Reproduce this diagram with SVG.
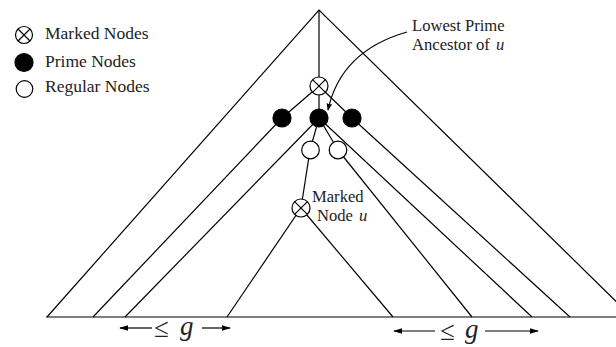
<svg xmlns="http://www.w3.org/2000/svg" width="616" height="347" viewBox="0 0 616 347">
<style>
.e{stroke:#000;stroke-width:1.2;fill:none}
.n{stroke:#000;stroke-width:1.2;fill:#fff}
.p{fill:#000;stroke:#000;stroke-width:1.2}
.t{font-family:"Liberation Serif",serif;font-size:17.5px;fill:#222}
.s{font-size:16.6px}
.i{font-style:italic}
.g{font-family:"Liberation Serif",serif;font-size:27px;fill:#222}
</style>
<defs>
<marker id="ah" viewBox="0 0 10 10" refX="9" refY="5" markerWidth="7" markerHeight="7" orient="auto" markerUnits="userSpaceOnUse">
<path d="M0,1 L10,5 L0,9 z" fill="#000"/>
</marker>
<marker id="ab" viewBox="0 0 10 10" refX="9" refY="5" markerWidth="9" markerHeight="9" orient="auto-start-reverse" markerUnits="userSpaceOnUse">
<path d="M0,2 L10,5 L0,8 z" fill="#000"/>
</marker>
</defs>
<g id="connectors">
<path class="e" d="M47,317 L319,10 L632,317"/>
<path class="e" d="M46,317 L616,317"/>
<path class="e" d="M319,10 L319,86"/>
<path class="e" d="M319,86 L282,118"/>
<path class="e" d="M319,86 L319,118"/>
<path class="e" d="M319,86 L352,118"/>
<path class="e" d="M282,118 L93,317"/>
<path class="e" d="M319,118 L125,317"/>
<path class="e" d="M319,118 L310,150"/>
<path class="e" d="M319,118 L338,150"/>
<path class="e" d="M319,118 L532,317"/>
<path class="e" d="M352,118 L570,317"/>
<path class="e" d="M310,150 L301,208"/>
<path class="e" d="M338,150 L472,317"/>
<path class="e" d="M301,208 L227,317"/>
<path class="e" d="M301,208 L393,317"/>
<path class="e" d="M407,32 C372,42 338,64 328,110" marker-end="url(#ah)"/>
</g>
<g id="node-marked-top">
<circle class="n" cx="319" cy="86" r="9"/>
<path class="e" d="M312.6,79.6 L325.4,92.4 M325.4,79.6 L312.6,92.4"/>
</g>
<g id="node-prime-left"><circle class="p" cx="282" cy="118" r="9"/></g>
<g id="node-prime-center"><circle class="p" cx="319" cy="118" r="9"/></g>
<g id="node-prime-right"><circle class="p" cx="352" cy="118" r="9"/></g>
<g id="node-regular-left"><circle class="n" cx="310.5" cy="150" r="8.8"/></g>
<g id="node-regular-right"><circle class="n" cx="338" cy="150" r="8.8"/></g>
<g id="node-marked-u">
<circle class="n" cx="301" cy="208" r="9"/>
<path class="e" d="M294.6,201.6 L307.4,214.4 M307.4,201.6 L294.6,214.4"/>
<text class="t s" x="312" y="202">Marked</text>
<text class="t s" x="317" y="220.5">Node</text>
<text class="t s i" x="359" y="220.5">u</text>
</g>
<g id="label-lowest-prime">
<text class="t s" x="412" y="31">Lowest Prime</text>
<text class="t s" x="412" y="49.5">Ancestor of</text>
<text class="t s i" x="496" y="49.5">u</text>
</g>
<g id="legend">
<circle class="n" cx="24" cy="35" r="8.5"/>
<path class="e" d="M18,29 L30,41 M30,29 L18,41"/>
<text class="t" x="45" y="39">Marked Nodes</text>
<circle class="p" cx="24" cy="62.5" r="9"/>
<text class="t" x="45" y="67">Prime Nodes</text>
<circle class="n" cx="24.5" cy="89" r="8.3"/>
<text class="t" x="45" y="92">Regular Nodes</text>
</g>
<g id="gap-left">
<path class="e" d="M152,328 L120,328" marker-end="url(#ab)"/>
<path class="e" d="M202,328 L230,328" marker-end="url(#ab)"/>
<text class="g" x="154" y="337">≤</text>
<text class="g i" x="180" y="335">g</text>
</g>
<g id="gap-right">
<path class="e" d="M435,331 L394,331" marker-end="url(#ab)"/>
<path class="e" d="M485,331 L538,331" marker-end="url(#ab)"/>
<text class="g" x="440" y="340">≤</text>
<text class="g i" x="465" y="338">g</text>
</g>
</svg>
